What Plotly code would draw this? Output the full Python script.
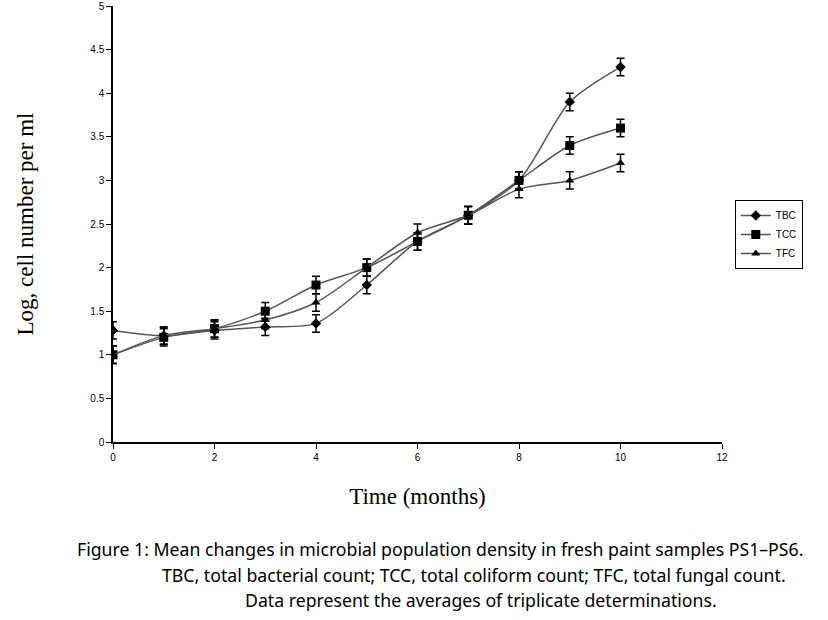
import plotly.graph_objects as go

months = [0, 1, 2, 3, 4, 5, 6, 7, 8, 9, 10]
tbc = [1.28, 1.22, 1.28, 1.32, 1.36, 1.80, 2.30, 2.60, 3.00, 3.90, 4.30]
tcc = [1.00, 1.20, 1.30, 1.50, 1.80, 2.00, 2.30, 2.60, 3.00, 3.40, 3.60]
tfc = [1.00, 1.22, 1.30, 1.40, 1.60, 2.00, 2.40, 2.60, 2.90, 3.00, 3.20]
err = [0.1] * 11

series = [("TBC", tbc, "diamond", 8), ("TCC", tcc, "square", 9), ("TFC", tfc, "triangle-up", 8)]

fig = go.Figure()
for name, vals, sym, sz in series:
    fig.add_trace(go.Scatter(
        x=months, y=vals, name=name, mode="lines+markers",
        line=dict(color="#555555", width=1.5, shape="spline", smoothing=0.8),
        marker=dict(symbol=sym, size=sz, color="black"),
        error_y=dict(type="data", array=err, visible=True, color="black", thickness=1.5, width=4),
    ))

fig.update_layout(
    width=828, height=620,
    margin=dict(l=113, r=106, t=6, b=178, autoexpand=False),
    paper_bgcolor="white", plot_bgcolor="white",
    font=dict(family="Liberation Sans, Arial", size=10, color="black"),
    showlegend=True,
    legend=dict(x=1.021, y=0.555, xanchor="left", yanchor="top",
                bordercolor="black", borderwidth=1, font=dict(size=10),
                tracegroupgap=0, itemwidth=30),
    xaxis=dict(range=[0, 12], tickvals=[0, 2, 4, 6, 8, 10, 12], showline=True,
               linecolor="black", linewidth=1.5, ticks="outside", ticklen=5,
               tickcolor="black", showgrid=False, zeroline=False, automargin=False,
               title=dict(text="Time (months)", font=dict(family="Liberation Serif, Times New Roman", size=23), standoff=26)),
    yaxis=dict(range=[0, 5], dtick=0.5, showline=True, linecolor="black", linewidth=1.5,
               ticks="outside", ticklen=5, tickcolor="black", showgrid=False, zeroline=False, automargin=False,
               title=dict(text="Log, cell number per ml", font=dict(family="Liberation Serif, Times New Roman", size=23), standoff=50)),
)

captions = [
    ("Figure 1: Mean changes in microbial population density in fresh paint samples PS1\u2013PS6.", 75, 549),
    ("TBC, total bacterial count; TCC, total coliform count; TFC, total fungal count.", 160, 575),
    ("Data represent the averages of triplicate determinations.", 243, 600),
]
for text, px, py in captions:
    fig.add_annotation(text=text, xref="paper", yref="paper",
                       x=(px - 113) / 609, y=(442 - py) / 436,
                       xanchor="left", yanchor="middle", showarrow=False,
                       font=dict(family="Noto Sans", size=17.7, color="black"))

fig.write_html("out.html", config={"displayModeBar": False},
               post_script="document.body.style.margin='0';")
